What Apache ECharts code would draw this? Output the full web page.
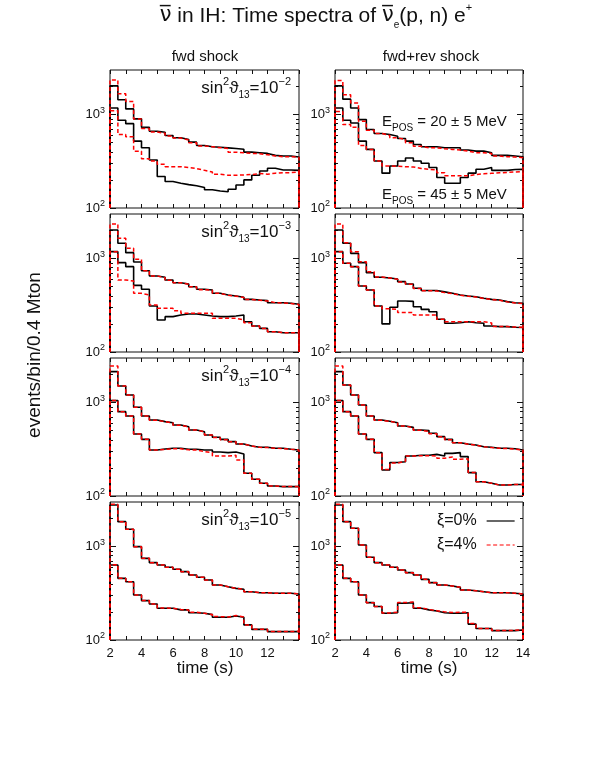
<!DOCTYPE html>
<html>
<head>
<meta charset="utf-8">
<script src="https://cdn.jsdelivr.net/npm/echarts@6/dist/echarts.min.js"></script>
<style>
  html, body { margin: 0; padding: 0; background: #fff; }
  #chart { width: 595px; height: 770px; }
</style>
</head>
<body>
<div id="chart"></div>
<script>
// bin edges in seconds (0.5 s bins)
const timeEdges = [2, 2.5, 3, 3.5, 4, 4.5, 5, 5.5, 6, 6.5, 7, 7.5, 8, 8.5, 9, 9.5, 10, 10.5, 11, 11.5, 12, 12.5, 13, 13.5, 14]
const yTicksMajor = [100, 1000]
const yTicksMinor = [200, 300, 400, 500, 600, 700, 800, 900, 2000]
const sinExponents = ['−2', '−3', '−4', '−5']

// fwd shock, sin^2 = 1e-2
const fwd_s2_e20_xi0 = [2030, 1440, 1150, 900, 730, 663, 647, 597, 564, 541, 507, 467, 452, 447, 440, 433, 426, 396, 391, 384, 366, 360, 360, 351]
const fwd_s2_e20_xi4 = [2350, 1667, 1380, 898, 708, 650, 630, 590, 560, 535, 500, 462, 452, 442, 433, 396, 391, 384, 381, 372, 360, 354, 354, 348]
const fwd_s2_e45_xi0 = [1175, 868, 800, 520, 441, 326, 217, 192, 184, 178, 173, 166, 157, 152, 149, 159, 176, 200, 224, 249, 266, 255, 255, 253]
const fwd_s2_e45_xi4 = [1100, 611, 578, 406, 337, 318, 294, 277, 277, 271, 264, 253, 243, 230, 224, 224, 226, 228, 234, 230, 236, 239, 239, 243]
// fwd+rev shock, sin^2 = 1e-2
const fwdrev_s2_e20_xi0 = [2030, 1463, 1175, 883, 691, 627, 611, 587, 554, 520, 479, 453, 453, 441, 441, 441, 417, 406, 406, 391, 366, 366, 360, 354]
const fwdrev_s2_e20_xi4 = [2310, 1627, 1327, 847, 680, 627, 597, 564, 541, 499, 459, 441, 441, 431, 424, 417, 406, 391, 391, 384, 360, 354, 351, 346]
const fwdrev_s2_e45_xi0 = [1175, 868, 813, 520, 424, 318, 236, 282, 318, 343, 318, 301, 271, 212, 184, 184, 212, 236, 260, 271, 253, 253, 258, 260]
const fwdrev_s2_e45_xi4 = [1081, 781, 731, 467, 424, 318, 282, 280, 277, 275, 265, 260, 255, 239, 222, 221, 221, 228, 232, 235, 238, 240, 243, 246]

// sin^2 = 1e-3
const fwd_s3_e20_xi0 = [2024, 1457, 1157, 920, 742, 651, 630, 590, 552, 535, 500, 469, 461, 425, 408, 398, 385, 366, 360, 355, 337, 337, 332, 324]
const fwd_s3_e20_xi4 = [2345, 1650, 1288, 982, 742, 651, 625, 585, 552, 530, 500, 465, 458, 425, 405, 396, 383, 364, 358, 352, 337, 335, 330, 322]
const fwd_s3_e45_xi0 = [1186, 904, 820, 517, 469, 311, 220, 239, 249, 255, 255, 249, 243, 239, 239, 243, 249, 211, 190, 179, 165, 161, 161, 161]
const fwd_s3_e45_xi4 = [1186, 590, 575, 425, 408, 319, 294, 294, 277, 260, 260, 260, 260, 230, 230, 230, 220, 206, 190, 179, 165, 161, 161, 161]
const fwdrev_s3_e20_xi0 = [2024, 1457, 1138, 904, 706, 630, 620, 605, 566, 535, 481, 455, 455, 440, 425, 408, 398, 391, 376, 366, 360, 346, 337, 332]
const fwdrev_s3_e20_xi4 = [2345, 1480, 1186, 926, 724, 635, 620, 600, 562, 530, 478, 452, 450, 432, 422, 405, 396, 388, 374, 364, 358, 344, 335, 330]
const fwdrev_s3_e45_xi0 = [1186, 890, 820, 509, 461, 311, 200, 301, 352, 348, 305, 286, 270, 224, 203, 206, 211, 206, 203, 190, 187, 187, 184, 183]
const fwdrev_s3_e45_xi4 = [1186, 890, 820, 509, 461, 311, 290, 286, 264, 264, 249, 249, 249, 224, 211, 211, 211, 211, 211, 205, 187, 187, 185, 184]

// sin^2 = 1e-4
const fwd_s4_e20_xi0 = [2143, 1507, 1206, 890, 719, 651, 625, 609, 575, 552, 509, 488, 450, 425, 404, 382, 360, 343, 332, 332, 324, 324, 316, 311]
const fwd_s4_e20_xi4 = [2466, 1507, 1206, 890, 719, 645, 625, 605, 572, 548, 509, 485, 450, 422, 400, 380, 360, 343, 332, 330, 324, 322, 316, 311]
const fwd_s4_e45_xi0 = [1050, 800, 719, 461, 404, 311, 318, 324, 324, 316, 316, 311, 311, 296, 291, 296, 282, 175, 151, 137, 128, 126, 126, 126]
const fwd_s4_e45_xi4 = [1050, 800, 719, 461, 404, 311, 316, 320, 320, 312, 310, 298, 291, 268, 268, 273, 243, 175, 151, 137, 128, 126, 126, 126]
const fwdrev_s4_e20_xi0 = [2143, 1543, 1206, 943, 719, 651, 632, 609, 561, 543, 509, 501, 469, 432, 404, 372, 360, 352, 337, 332, 324, 324, 320, 311]
const fwdrev_s4_e20_xi4 = [2466, 1543, 1206, 943, 719, 645, 630, 605, 561, 540, 505, 490, 465, 432, 400, 372, 358, 350, 337, 330, 324, 322, 318, 311]
const fwdrev_s4_e45_xi0 = [1050, 800, 719, 461, 404, 291, 190, 228, 233, 268, 273, 273, 279, 268, 286, 291, 264, 178, 142, 137, 131, 131, 133, 133]
const fwdrev_s4_e45_xi4 = [1050, 800, 719, 461, 404, 291, 192, 225, 235, 268, 270, 270, 268, 253, 262, 248, 250, 178, 142, 137, 131, 131, 133, 133]

// sin^2 = 1e-5
const fwd_s5_e20_xi0 = [2790, 1849, 1531, 998, 748, 673, 635, 600, 571, 539, 497, 469, 439, 388, 372, 357, 349, 329, 321, 321, 316, 316, 316, 311]
const fwd_s5_e20_xi4 = [2830, 1849, 1531, 998, 748, 673, 635, 600, 571, 539, 497, 469, 439, 388, 372, 357, 349, 329, 321, 321, 316, 316, 316, 311]
const fwd_s5_e45_xi0 = [635, 457, 421, 303, 264, 243, 219, 219, 210, 210, 196, 193, 187, 175, 175, 181, 175, 145, 130, 130, 123, 123, 123, 123]
const fwd_s5_e45_xi4 = [640, 457, 421, 303, 264, 243, 220, 219, 212, 210, 198, 193, 187, 178, 176, 183, 176, 145, 130, 130, 123, 123, 123, 124]
const fwdrev_s5_e20_xi0 = [2790, 1849, 1568, 1040, 768, 673, 635, 600, 561, 526, 497, 446, 411, 388, 379, 366, 343, 337, 329, 321, 321, 321, 316, 311]
const fwdrev_s5_e20_xi4 = [2830, 1849, 1568, 1040, 768, 673, 635, 600, 561, 526, 497, 446, 411, 388, 379, 366, 343, 337, 329, 321, 321, 321, 316, 311]
const fwdrev_s5_e45_xi0 = [635, 457, 421, 303, 251, 228, 193, 196, 247, 251, 219, 210, 204, 196, 193, 193, 196, 148, 133, 133, 126, 126, 126, 128]
const fwdrev_s5_e45_xi4 = [640, 457, 421, 303, 251, 228, 195, 198, 252, 255, 222, 212, 206, 200, 197, 198, 198, 150, 133, 133, 126, 126, 127, 129]

const panels = [
  { row: 0, col: 0, sets: [fwd_s2_e20_xi0, fwd_s2_e20_xi4, fwd_s2_e45_xi0, fwd_s2_e45_xi4] },
  { row: 0, col: 1, sets: [fwdrev_s2_e20_xi0, fwdrev_s2_e20_xi4, fwdrev_s2_e45_xi0, fwdrev_s2_e45_xi4] },
  { row: 1, col: 0, sets: [fwd_s3_e20_xi0, fwd_s3_e20_xi4, fwd_s3_e45_xi0, fwd_s3_e45_xi4] },
  { row: 1, col: 1, sets: [fwdrev_s3_e20_xi0, fwdrev_s3_e20_xi4, fwdrev_s3_e45_xi0, fwdrev_s3_e45_xi4] },
  { row: 2, col: 0, sets: [fwd_s4_e20_xi0, fwd_s4_e20_xi4, fwd_s4_e45_xi0, fwd_s4_e45_xi4] },
  { row: 2, col: 1, sets: [fwdrev_s4_e20_xi0, fwdrev_s4_e20_xi4, fwdrev_s4_e45_xi0, fwdrev_s4_e45_xi4] },
  { row: 3, col: 0, sets: [fwd_s5_e20_xi0, fwd_s5_e20_xi4, fwd_s5_e45_xi0, fwd_s5_e45_xi4] },
  { row: 3, col: 1, sets: [fwdrev_s5_e20_xi0, fwdrev_s5_e20_xi4, fwdrev_s5_e45_xi0, fwdrev_s5_e45_xi4] }
]

// layout
const FONT = "'Liberation Sans', 'DejaVu Sans', sans-serif"
const INK = '#111'
const Y_MIN = 100
const Y_MAX = 3000
const colLeft = [110, 335]
const colWidth = [189, 188]
const rowTop = [70, 214, 358, 502]
const PANEL_H = 138

// histogram -> step polyline, closed down to the axis floor at both ends
function toSteps(vals) {
  const pts = [[timeEdges[0], Y_MIN]]
  vals.forEach((v, i) => pts.push([timeEdges[i], v]))
  pts.push([timeEdges[vals.length], vals[vals.length - 1]])
  pts.push([timeEdges[vals.length], Y_MIN])
  return pts
}

const supRich = {
  b: { fontSize: 13, lineHeight: 18, color: INK, fontFamily: FONT },
  s: { fontSize: 9, verticalAlign: 'top', color: INK, fontFamily: FONT }
}

const grids = []
const xAxes = []
const yAxes = []
const series = []

panels.forEach((p, gi) => {
  grids.push({
    left: colLeft[p.col], top: rowTop[p.row], width: colWidth[p.col], height: PANEL_H,
    show: true, borderColor: INK, borderWidth: 1, backgroundColor: 'transparent'
  })
  const isBottom = p.row === 3
  const xBase = xAxes.length
  ;['bottom', 'top'].forEach(pos => {
    xAxes.push({
      type: 'value', gridIndex: gi, position: pos, min: 2, max: 14, interval: 1,
      axisLine: { show: false },
      splitLine: { show: false },
      axisTick: { show: true, inside: true, length: 4, lineStyle: { color: INK } },
      axisLabel: {
        show: pos === 'bottom' && isBottom, margin: 7, fontSize: 13, color: INK, fontFamily: FONT,
        formatter: v => (v % 2 === 0 && (p.col === 1 || v < 14)) ? String(v) : ''
      }
    })
  })
  const yBase = yAxes.length
  ;[['left', true], ['left', false], ['right', true], ['right', false]].forEach(([pos, major]) => {
    yAxes.push({
      type: 'log', logBase: 10, gridIndex: gi, position: pos, min: Y_MIN, max: Y_MAX,
      axisLine: { show: false },
      splitLine: { show: false },
      minorTick: { show: false },
      axisTick: {
        show: true, inside: true, length: major ? 6 : 3,
        customValues: major ? yTicksMajor : yTicksMinor,
        lineStyle: { color: INK }
      },
      axisLabel: {
        show: pos === 'left' && major, customValues: yTicksMajor, margin: 5,
        formatter: v => '{b|10}{s|' + Math.round(Math.log10(v)) + '}',
        rich: supRich
      }
    })
  })
  p.sets.forEach((vals, k) => {
    const black = k % 2 === 0
    series.push({
      type: 'line', name: black ? 'ξ=0%' : 'ξ=4%',
      xAxisIndex: xBase, yAxisIndex: yBase,
      step: 'end', symbol: 'none', silent: true,
      data: toSteps(vals),
      lineStyle: black ? { color: '#000', width: 1.6 } : { color: '#ff0000', width: 1.5, type: [4, 2.5] },
      itemStyle: { color: black ? '#000' : '#ff0000' },
      z: black ? 2 : 3
    })
  })
})

const txtRich = {
  m: { fontSize: 17, lineHeight: 24, color: INK, fontFamily: FONT },
  e: { fontSize: 15, lineHeight: 22, color: INK, fontFamily: FONT },
  sup: { fontSize: 11, verticalAlign: 'top', color: INK, fontFamily: FONT },
  sub: { fontSize: 10, verticalAlign: 'bottom', color: INK, fontFamily: FONT },
  nu: { fontSize: 21, lineHeight: 28, color: INK, fontFamily: "'DejaVu Sans'" },
  t: { fontSize: 21, lineHeight: 28, color: INK, fontFamily: FONT }
}

function label(text, x, y, align) {
  return {
    type: 'text', x: x, y: y, silent: true,
    style: { text: text, align: align || 'center', verticalAlign: 'middle', rich: txtRich, fill: INK, font: '13px ' + FONT }
  }
}

function plain(text, x, y, size, rotation) {
  return {
    type: 'text', x: x, y: y, silent: true, rotation: rotation || 0,
    style: { text: text, align: 'center', verticalAlign: 'middle', fill: INK, font: size + 'px ' + FONT }
  }
}

const graphics = [
  label('{nu|ν\u0305}{t| in IH: Time spectra of }{nu|ν\u0305}{sub|e}{t|(p, n) e}{sup|+}', 316, 16),
  plain('fwd shock', 205, 57, 15),
  plain('fwd+rev shock', 431, 57, 15),
  label('{e|E}{sub|POS}{e| = 20 ± 5 MeV}', 382, 122, 'left'),
  label('{e|E}{sub|POS}{e| = 45 ± 5 MeV}', 382, 195, 'left'),
  plain('time (s)', 205, 668, 17),
  plain('time (s)', 429, 668, 17),
  plain('events/bin/0.4 Mton', 35, 355, 19, Math.PI / 2)
]
sinExponents.forEach((e, r) => {
  graphics.push(label('{m|sin}{sup|2}{m|ϑ}{sub|13}{m|=10}{sup|' + e + '}', 291, rowTop[r] + 18, 'right'))
})

const chart = echarts.init(document.getElementById('chart'), null, { renderer: 'canvas' })
chart.setOption({
  animation: false,
  backgroundColor: '#fff',
  grid: grids,
  xAxis: xAxes,
  yAxis: yAxes,
  series: series,
  legend: {
    data: ['ξ=0%', 'ξ=4%'],
    orient: 'vertical', align: 'right',
    left: 432, top: 508,
    itemWidth: 28, itemHeight: 14, itemGap: 8,
    itemStyle: { opacity: 0 },
    lineStyle: { width: 1.2 },
    textStyle: { fontSize: 16, color: INK, fontFamily: FONT, padding: [0, 5, 0, 0] },
    selectedMode: false
  },
  graphic: graphics
})
</script>
</body>
</html>
